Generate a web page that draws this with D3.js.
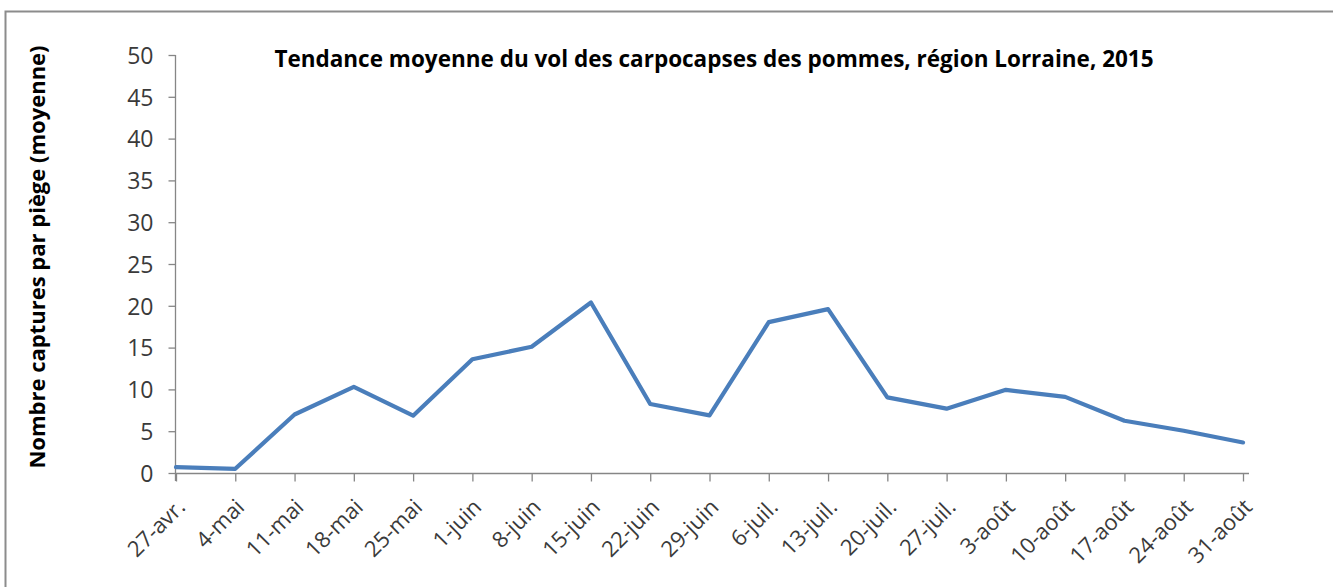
<!DOCTYPE html>
<html>
<head>
<meta charset="utf-8">
<script src="https://cdn.jsdelivr.net/npm/d3@7"></script>
<style>
  body { margin: 0; background: #fff; }
  text { font-family: "Open Sans", "DejaVu Sans", sans-serif; }
</style>
</head>
<body>
<div id="chart"></div>
<script>
const dates = ["27-avr.", "4-mai", "11-mai", "18-mai", "25-mai", "1-juin", "8-juin", "15-juin", "22-juin", "29-juin",
  "6-juil.", "13-juil.", "20-juil.", "27-juil.", "3-août", "10-août", "17-août", "24-août", "31-août"];
const captures = [0.7, 0.5, 7.0, 10.3, 6.85, 13.6, 15.1, 20.4, 8.25, 6.9,
  18.05, 19.6, 9.05, 7.7, 9.95, 9.1, 6.25, 5.05, 3.65];
const yTicks = [0, 5, 10, 15, 20, 25, 30, 35, 40, 45, 50];
const title = "Tendance moyenne du vol des carpocapses des pommes, région Lorraine, 2015";
const yTitle = "Nombre captures par piège (moyenne)";

const width = 1333, height = 587;
const margin = {left: 176, right: 90, top: 55, bottom: 114};

const svg = d3.select("#chart").append("svg")
  .attr("width", width)
  .attr("height", height);

// outer frame (continues past the right and bottom edges)
svg.append("rect")
  .attr("x", 5.5).attr("y", 11.5)
  .attr("width", width + 20).attr("height", height + 20)
  .attr("fill", "none")
  .attr("stroke", "#8c8c8c")
  .attr("stroke-width", 2);

const x = d3.scalePoint()
  .domain(dates)
  .range([margin.left, width - margin.right]);

const y = d3.scaleLinear()
  .domain([0, 50])
  .range([height - margin.bottom, margin.top]);

// y axis
const yAxis = svg.append("g")
  .attr("transform", `translate(${margin.left - 0.5},0)`)
  .call(d3.axisLeft(y).tickValues(yTicks).tickSize(7).tickPadding(15).tickSizeOuter(0));

// x axis
const xAxis = svg.append("g")
  .attr("transform", `translate(0,${y(0) + 0.5})`)
  .call(d3.axisBottom(x).tickSize(8).tickSizeOuter(0));

[yAxis, xAxis].forEach(g => {
  g.select(".domain").attr("stroke", "#868686").attr("stroke-width", 1.3);
  g.selectAll(".tick line").attr("stroke", "#868686").attr("stroke-width", 1.3);
  g.selectAll(".tick text")
    .attr("fill", "#3a3a3a")
    .style("font-family", "'Open Sans', sans-serif")
    .style("font-size", "23px");
});

// extend axes a little, like the source
xAxis.select(".domain").attr("d", `M${margin.left},0H${width - margin.right + 6}`);
yAxis.select(".domain").attr("d", `M0,${y(50)}V${y(0) + 8}`);

yAxis.selectAll(".tick text").attr("dy", "0.36em");

xAxis.selectAll(".tick text")
  .attr("text-anchor", "end")
  .attr("dy", 0)
  .attr("x", 0).attr("y", 0)
  .style("font-size", "22px")
  .attr("transform", "translate(10,35) rotate(-45)");

// series line
const line = d3.line()
  .x((d, i) => x(dates[i]))
  .y(d => y(d));

svg.append("path")
  .datum(captures)
  .attr("d", line)
  .attr("fill", "none")
  .attr("stroke", "#4a7ebb")
  .attr("stroke-width", 4.2)
  .attr("stroke-linejoin", "round")
  .attr("stroke-linecap", "round");

// title
svg.append("text")
  .attr("x", 714)
  .attr("y", 67)
  .attr("text-anchor", "middle")
  .style("font-weight", "bold")
  .style("font-size", "22.5px")
  .attr("fill", "#000")
  .text(title);

// y axis title
svg.append("text")
  .attr("transform", `translate(45,257) rotate(-90)`)
  .attr("text-anchor", "middle")
  .style("font-weight", "bold")
  .style("font-size", "22px")
  .attr("fill", "#000")
  .text(yTitle);
</script>
</body>
</html>
